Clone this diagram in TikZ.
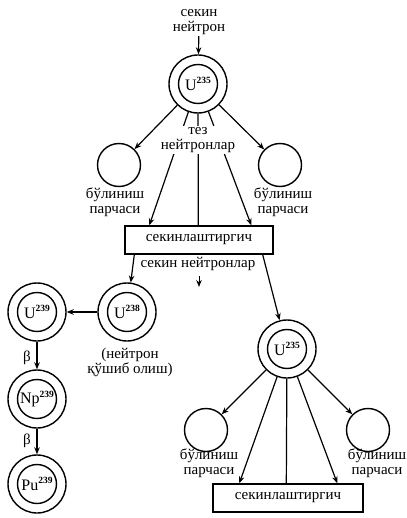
\documentclass[tikz,border=0pt]{standalone}
\usepackage{fontspec}
\setmainfont{Liberation Serif}
\usetikzlibrary{arrows.meta}
\newcommand{\nucl}[2]{#1\raisebox{0.42em}{\fontsize{9.5}{9.5}\selectfont\bfseries #2}}
\begin{document}
\begin{tikzpicture}[x=1pt,y=-1pt,
  nuc/.style={circle, draw, line width=1.4pt, minimum size=58pt, inner sep=0pt,
    font=\fontsize{16}{16}\selectfont,
    path picture={\draw[line width=1.4pt] (path picture bounding box.center) circle[radius=19.5pt];}},
  frag/.style={circle, draw, line width=1.4pt, minimum size=43pt, inner sep=0pt},
  boxst/.style={draw, line width=1.4pt, minimum width=148pt, minimum height=28pt, inner sep=0pt,
    font=\fontsize{15}{15.5}\selectfont},
  arr/.style={line width=1.2pt, -{Stealth[length=7pt,width=5.5pt]}},
  ln/.style={line width=1.2pt},
  lbl/.style={align=center, inner sep=1pt, font=\fontsize{15}{15.5}\selectfont}
]
\useasboundingbox (0,0) rectangle (406,518);

% upper part
\node[lbl] (toplbl) at (199,22) {секин\\нейтрон};
\node[nuc] (Ua) at (198,84) {\nucl{U}{235}};
\node[frag] (fL) at (119,165) {};
\node[frag] (fR) at (280,165) {};
\node[lbl] at (115,202) {бўлиниш\\парчаси};
\node[lbl] at (283,202) {бўлиниш\\парчаси};
\node[boxst] (box1) at (199,240) {секинлаштиргич};

\coordinate (b1a) at ([xshift=25pt]box1.north west);
\coordinate (b1b) at ([xshift=74pt]box1.north west);
\coordinate (b1c) at ([xshift=127pt]box1.north west);

\draw[arr] (toplbl) -- (Ua);
\draw[arr] (Ua) -- (fL);
\draw[arr] (Ua) -- (fR);
\draw[arr] (Ua) -- (b1a);
\draw[ln] (Ua) -- (b1b);
\draw[arr] (Ua) -- (b1c);
\node[lbl, fill=white] at (198,140) {тез\\нейтронлар};

% middle
\node[lbl] (slow) at (198,264) {секин нейтронлар};
\coordinate (sa) at (199,276);
\coordinate (sb) at (199,287);
\draw[arr, line width=1pt] (sa) -- (sb);

\node[nuc] (U238) at (127,312) {\nucl{U}{238}};
\node[nuc] (U239) at (37,312) {\nucl{U}{239}};
\node[nuc] (Np) at (37,399) {\nucl{Np}{239}};
\node[nuc] (Pu) at (37,484) {\nucl{Pu}{239}};
\node[lbl, font=\fontsize{15}{13.5}\selectfont] at (130,362) {(нейтрон\\қўшиб олиш)};
\node[lbl] at (27,358) {β};
\node[lbl] at (27,441) {β};

\draw[arr] ([xshift=10pt]box1.south west) -- (U238);
\draw[arr] (U238) -- (U239);
\draw[arr] (U239) -- (Np);
\draw[arr] (Np) -- (Pu);

% lower right
\node[nuc] (Ub) at (287,349) {\nucl{U}{235}};
\draw[arr] ([xshift=-11pt]box1.south east) -- (Ub);
\node[frag] (gL) at (206,430) {};
\node[frag] (gR) at (368,430) {};
\node[lbl] at (209,463) {бўлиниш\\парчаси};
\node[lbl] at (377,463) {бўлиниш\\парчаси};
\node[boxst, minimum width=150pt] (box2) at (288,498) {секинлаштиргич};

\coordinate (b2a) at ([xshift=27pt]box2.north west);
\coordinate (b2b) at ([xshift=74pt]box2.north west);
\coordinate (b2c) at ([xshift=125pt]box2.north west);

\draw[arr] (Ub) -- (gL);
\draw[arr] (Ub) -- (gR);
\draw[arr] (Ub) -- (b2a);
\draw[ln] (Ub) -- (b2b);
\draw[arr] (Ub) -- (b2c);
\end{tikzpicture}
\end{document}
